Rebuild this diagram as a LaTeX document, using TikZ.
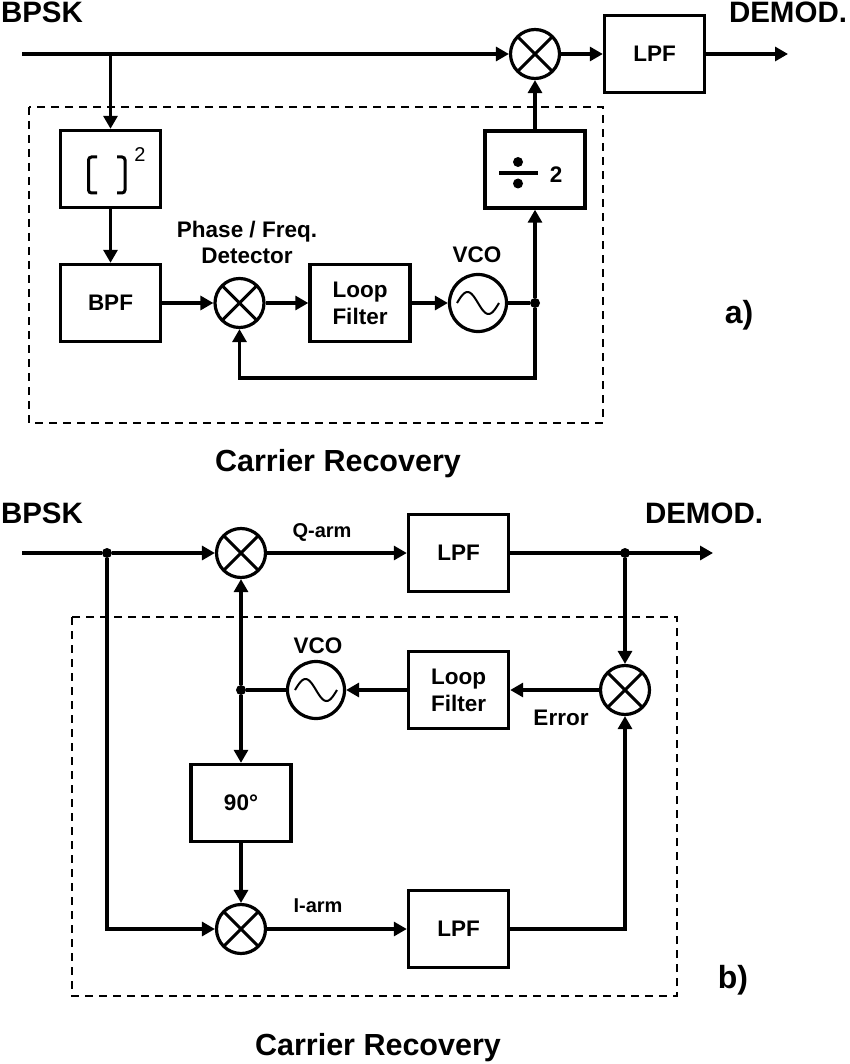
\documentclass[tikz,border=0pt]{standalone}
\usepackage{fontspec}
\setmainfont{Liberation Sans}
\usetikzlibrary{arrows.meta,calc}
\begin{document}
\begin{tikzpicture}[x=1pt,y=-1pt,
  blk/.style={draw,line width=3.4pt,minimum width=100pt,minimum height=77pt,inner sep=0pt,
    font=\fontsize{22.5}{27}\selectfont\bfseries,align=center},
  mixer/.style={draw,circle,line width=3.2pt,minimum size=49pt,inner sep=0pt,
    path picture={\draw[line width=3pt]
      (path picture bounding box.south west) -- (path picture bounding box.north east)
      (path picture bounding box.north west) -- (path picture bounding box.south east);}},
  osc/.style={draw,circle,line width=3.2pt,minimum size=57pt,inner sep=0pt},
  conn/.style={line width=3.1pt},
  arr/.style={conn,-{Triangle[length=13pt,width=14pt]}},
  lbl/.style={font=\fontsize{22.5}{26}\selectfont\bfseries,anchor=base,inner sep=0pt},
  big/.style={font=\fontsize{29.5}{34}\selectfont\bfseries,anchor=base,inner sep=0pt},
  crl/.style={font=\fontsize{30.5}{34}\selectfont\bfseries,anchor=base,inner sep=0pt},
  tag/.style={font=\fontsize{32}{36}\selectfont\bfseries,anchor=base,inner sep=0pt},
  sml/.style={font=\fontsize{20}{24}\selectfont\bfseries,anchor=base,inner sep=0pt},
  jdot/.style={circle,fill,inner sep=0pt,minimum size=10pt},
  dbox/.style={line width=2.6pt,dash pattern=on 8pt off 6pt},
  sine/.style={line width=2pt}
]
\useasboundingbox (0,0) rectangle (850,1064);

% ================= (a) =================
\node[big] (bpskA) at (42,23) {BPSK};
\node[big] (demodA) at (788,23) {DEMOD.};

\draw[dbox] (29,107) rectangle (603,423);

\coordinate (inA) at (22,54);
\coordinate (brA) at (110.5,54);
\coordinate (outA) at (788,54);
\node[mixer] (mixA) at (535,54) {};
\node[blk] (lpfA) at (654.5,54) {LPF};

\node[blk] (sq) at (110.5,169) {};
\node[blk] (bpf) at (110.5,303) {BPF};
\node[mixer] (pd) at (239.5,303) {};
\node[blk] (lfA) at (360,303) {Loop\\Filter};
\node[osc] (vcoA) at (478,303) {};
\node[jdot] (jA) at (535,303) {};
\node[blk] (div) at (535,169.5) {};

% squarer symbol
\begin{scope}[shift={(sq.center)}]
  \draw[line width=3pt,rounded corners=3pt] (-13.5,-12) -- (-22,-12) -- (-22,24) -- (-13.5,24);
  \draw[line width=3pt,rounded corners=3pt] (6.5,-12) -- (14.5,-12) -- (14.5,24) -- (6.5,24);
  \node[font=\fontsize{20}{22}\selectfont,anchor=base,inner sep=0pt] (sqexp) at (29.5,-7) {2};
\end{scope}

% divide-by-two symbol
\begin{scope}[shift={(div.center)}]
  \draw[line width=3.4pt] (-36,3.5) -- (3,3.5);
  \fill (-17,-7.5) circle (5pt);
  \fill (-17,14) circle (5pt);
  \node[lbl] (divtwo) at (21,13.5) {2};
\end{scope}

% sine symbols
\foreach \n in {vcoA} {
  \draw[sine,shift={(\n.center)}] plot[domain=-21:21,samples=60,smooth] (\x,{11*sin(\x*180/21)});
}

\node[font=\fontsize{22.5}{26}\selectfont\bfseries,align=center,inner sep=0pt] (pdtxt) at (247,242) {Phase / Freq.\\Detector};
\node[lbl] (vcoAlbl) at (477,262) {VCO};
\node[crl] (crA) at (338,471) {Carrier Recovery};
\node[tag] (tagA) at (739,323) {a)};

% connectors (a)
\draw[arr] (inA) -- (mixA);
\draw[arr] (mixA) -- (lpfA);
\draw[arr] (lpfA) -- (outA);
\draw[arr] (brA) -- (sq);
\draw[arr] (sq) -- (bpf);
\draw[arr] (bpf) -- (pd);
\draw[arr] (pd) -- (lfA);
\draw[arr] (lfA) -- (vcoA);
\draw[conn] (vcoA) -- (jA);
\draw[arr] (jA) -- (div);
\draw[arr] (div) -- (mixA);
\draw[arr] (jA) -- ++(0,75) -| (pd.south);

% ================= (b) =================
\node[big] (bpskB) at (42,523) {BPSK};
\node[big] (demodB) at (704,523) {DEMOD.};

\draw[dbox] (72,617) rectangle (677,996);

\coordinate (inB) at (22,553);
\coordinate (outB) at (713,553);
\node[jdot] (jB1) at (107,553) {};
\node[mixer] (mixQ) at (241,553) {};
\node[blk] (lpfQ) at (458.5,553) {LPF};
\node[jdot] (jB2) at (625,553) {};

\node[jdot] (jB3) at (241,690) {};
\node[osc] (vcoB) at (316,690) {};
\node[blk] (lfB) at (458.5,690) {Loop\\Filter};
\node[mixer] (mixE) at (625,690) {};

\node[blk] (ph90) at (241,803) {90°};
\node[mixer] (mixI) at (241,929) {};
\node[blk] (lpfI) at (458.5,929) {LPF};

\foreach \n in {vcoB} {
  \draw[sine,shift={(\n.center)}] plot[domain=-21:21,samples=60,smooth] (\x,{11*sin(\x*180/21)});
}

\node[sml] (qarm) at (322,537) {Q-arm};
\node[sml] (iarm) at (318,912) {I-arm};
\node[lbl] (vcoBlbl) at (318,653) {VCO};
\node[lbl] (errlbl) at (561,725) {Error};
\node[crl] (crB) at (378,1055) {Carrier Recovery};
\node[tag] (tagB) at (733,988) {b)};

% connectors (b)
\draw[conn] (inB) -- (jB1);
\draw[arr] (jB1) -- (mixQ);
\draw[arr] (mixQ) -- (lpfQ);
\draw[arr] (lpfQ) -- (outB);
\draw[arr] (jB2) -- (mixE);
\draw[arr] (mixE) -- (lfB);
\draw[arr] (lfB) -- (vcoB);
\draw[conn] (vcoB) -- (jB3);
\draw[arr] (jB3) -- (mixQ);
\draw[arr] (jB3) -- (ph90);
\draw[arr] (ph90) -- (mixI);
\draw[arr] (jB1) |- (mixI);
\draw[arr] (mixI) -- (lpfI);
\draw[arr] (lpfI) -| (mixE);
\end{tikzpicture}
\end{document}
